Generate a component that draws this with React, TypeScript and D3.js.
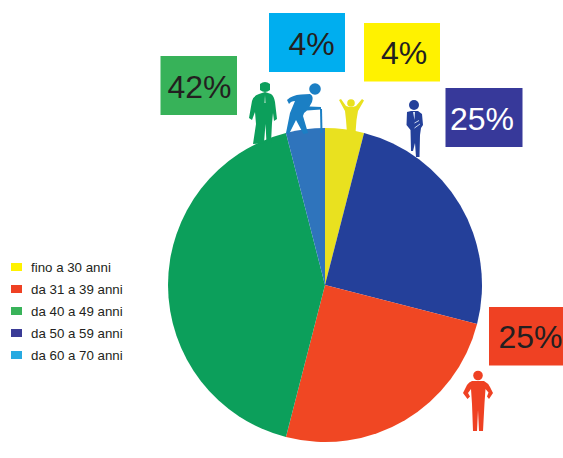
import React from "react";
import * as d3 from "d3";

const ageBands = ["fino a 30 anni", "da 31 a 39 anni", "da 40 a 49 anni", "da 50 a 59 anni", "da 60 a 70 anni"];
const shares = [4, 25, 42, 25, 4];
const legendColors = ["#FFF200", "#EF4123", "#39B35A", "#3A3B96", "#27AAE1"];

// Slices run clockwise from twelve o'clock in this order of bands.
const sliceOrder = [0, 3, 1, 2, 4];
const sliceColors = ["#E9E11F", "#24409A", "#F04723", "#0C9F5B", "#2F74BC"];

const labelBoxes = [
  { band: 2, x: 160.5, y: 56, w: 76.5, h: 59, fill: "#37B259", tx: 167.5, ty: 98, ink: "#231F20" },
  { band: 4, x: 269, y: 13, w: 76, h: 59, fill: "#00AEEF", tx: 288.5, ty: 55, ink: "#231F20" },
  { band: 0, x: 364, y: 23, w: 76, h: 58.5, fill: "#FFF200", tx: 381, ty: 63.5, ink: "#231F20" },
  { band: 3, x: 445.5, y: 88, w: 77, h: 59, fill: "#37399A", tx: 450, ty: 130, ink: "#FFFFFF" },
  { band: 1, x: 489, y: 307, w: 74, h: 58.5, fill: "#EF4123", tx: 498.5, ty: 348, ink: "#231F20" },
];

const cx = 325;
const cy = 285;
const radius = 157;

const pie = d3.pie<number>().sort(null).value((d) => d);
const arc = d3.arc<d3.PieArcDatum<number>>().innerRadius(0).outerRadius(radius);
const slices = pie(sliceOrder.map((i) => shares[i]));

const legendY = d3.scalePoint<string>().domain(ageBands).range([267, 355]);

// Small pictograms of people standing around the pie.
function Suited() {
  return (
    <g fill="#0C9F5B">
      <path d="M260 84 Q265 80 270 84 L270 90 Q265 94 260 90 Z" />
      <path d="M259 94 L265 92 L271 94 Q274 96 275 102 L277 119 L274 121 L273 113 L272 123 L271 143 L266.5 143 L265.5 124 L264 143 L253 144 L256 124 L255 112 L252 120 L249 118 L252 101 Q253 96 259 94 Z" />
      <path d="M265 95 L264.4 103 L265.6 103 Z" fill="#BFE5CF" />
    </g>
  );
}

function Elder() {
  return (
    <g fill="#1B7FC4">
      <circle cx={315} cy={89} r={5.8} />
      <path d="M287 100 Q292 95 301 94.5 L310 94 Q314 96 312 102 L309.5 106.5 L321 107 L321 109.5 L307 110.5 Q304 112 303 116 L308 133 L303.5 134 L296 120 L289 134 L286 133 L290 113 L295 101 Q291 101 289 104 Z" />
      <path d="M320 109 L322 109 L322.5 133 L320.5 133 Z" />
    </g>
  );
}

function Cheering() {
  return (
    <g fill="#E9E11F">
      <circle cx={351} cy={103} r={3.8} />
      <path d="M339 100 L341 99 L346 106 Q351 108 356 106 L362 99 L364 100.5 L358 111 L356.5 120 L355.5 133 L347 133 L346 120 L345 111 Z" />
    </g>
  );
}

function Standing() {
  return (
    <g fill="#24409A">
      <circle cx={414} cy={105} r={5} />
      <path d="M407 112 L411 111 L418 111 L422 114 L423 125 L421 128 L420 135 L419.5 157 L416 157 L415 143 L413 151 L411 151 L410.5 130 L406.5 125 Z" />
      <path d="M413 112 L415 112 L414.5 120 Z" fill="#DCE6F5" />
      <path d="M414.5 123 L419 120.5 M414.5 128 L420 124" stroke="#DCE6F5" strokeWidth={0.9} fill="none" />
    </g>
  );
}

function AkimboMan() {
  return (
    <g fill="#EF4123">
      <circle cx={478} cy={375.5} r={4.8} />
      <path d="M472 381 L484 381 Q488 383 490 387 L493 393 L489 399 L487 396.5 L488.5 392.5 L485.5 389 L484.5 403 L483 431 L479 431 L478 410 L477 431 L473 431 L472 404 L471 389 L468 393 L470 396.5 L467.5 399 L463 393 L467 385 Q469 382 472 381 Z" />
    </g>
  );
}

export default function App() {
  return (
    <svg
      width={563}
      height={458}
      viewBox="0 0 563 458"
      style={{ position: "absolute", left: 0, top: 0, background: "#fff" }}
      fontFamily="'Liberation Sans', Arial, sans-serif"
    >
      <g transform={`translate(${cx},${cy})`}>
        {slices.map((s, i) => (
          <path key={i} d={arc(s) ?? ""} fill={sliceColors[i]} />
        ))}
      </g>

      <Suited />
      <Elder />
      <Cheering />
      <Standing />
      <AkimboMan />

      {labelBoxes.map((b) => (
        <g key={b.band}>
          <rect x={b.x} y={b.y} width={b.w} height={b.h} fill={b.fill} />
          <text x={b.tx} y={b.ty} fontSize={32} fill={b.ink}>
            {shares[b.band]}%
          </text>
        </g>
      ))}

      {ageBands.map((band, i) => {
        const y = legendY(band) ?? 0;
        return (
          <g key={band}>
            <rect x={11} y={y - 4} width={11} height={8} fill={legendColors[i]} />
            <text x={31} y={y + 4.5} fontSize={13.3} fill="#231F20">
              {band}
            </text>
          </g>
        );
      })}
    </svg>
  );
}
